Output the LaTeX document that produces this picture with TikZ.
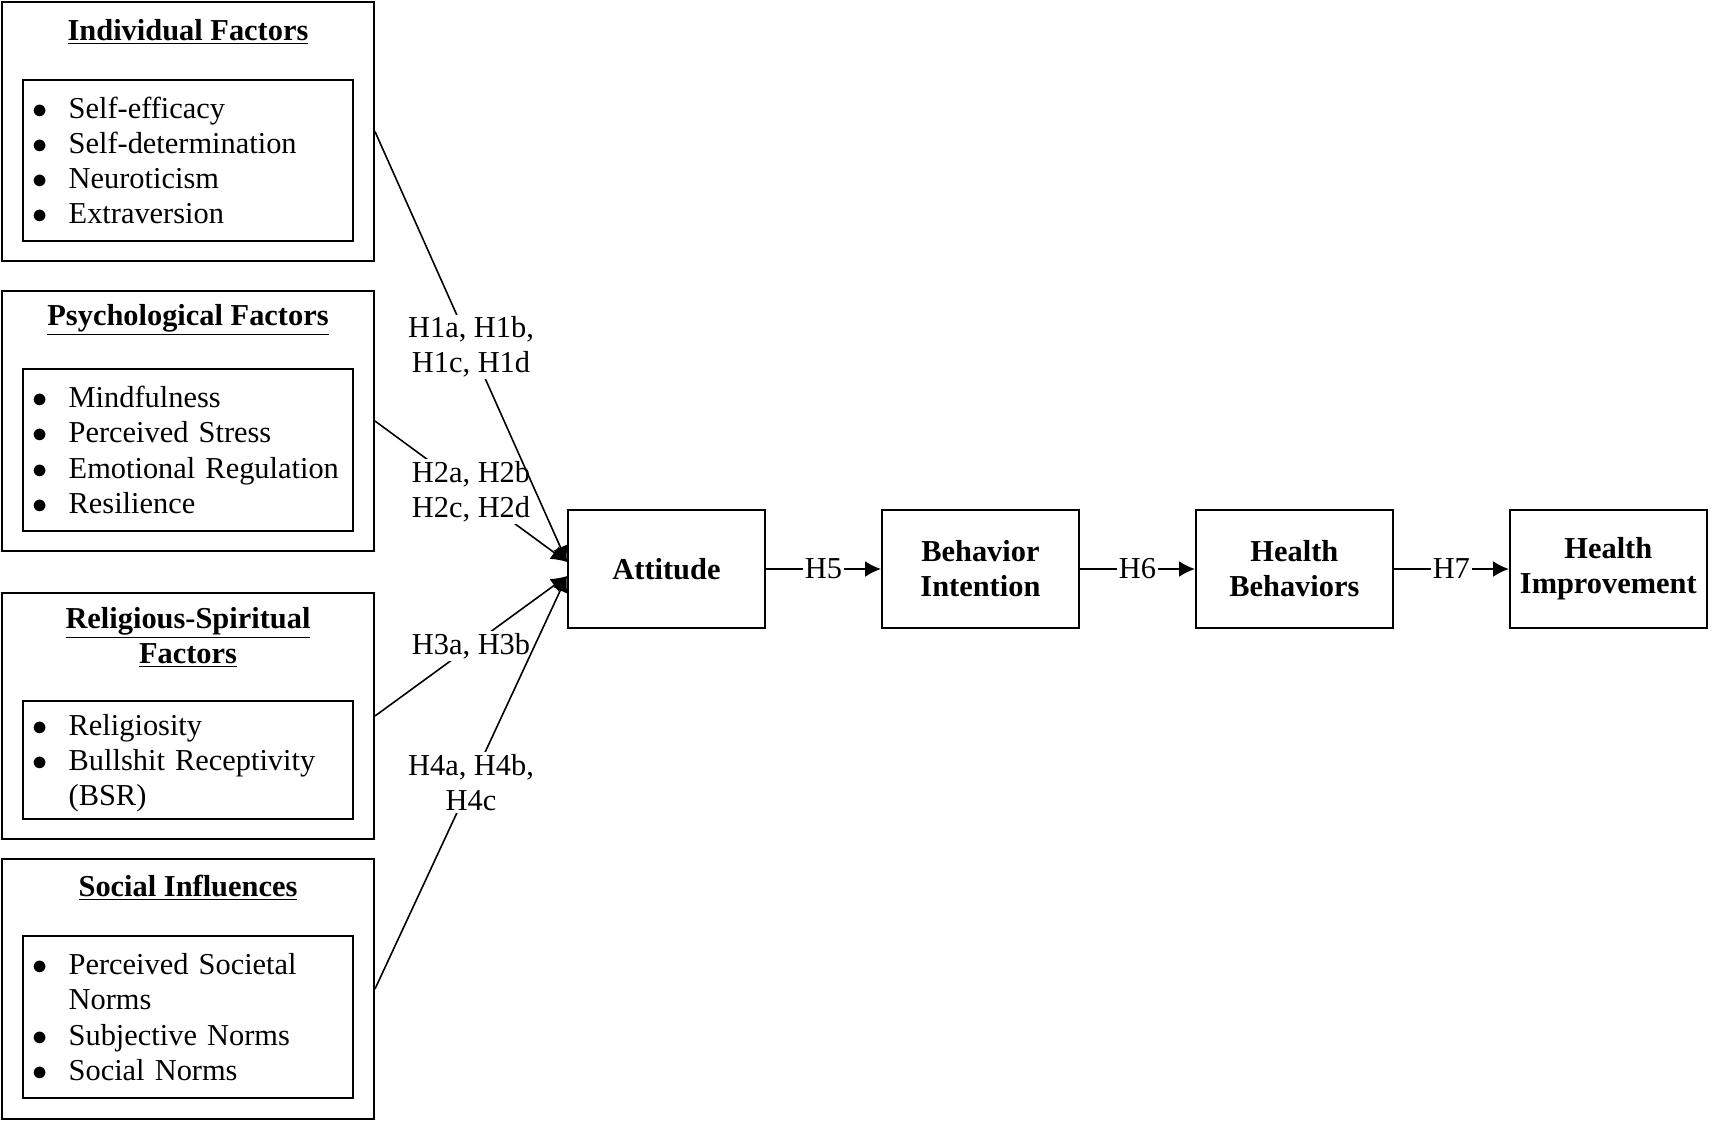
\documentclass[tikz,border=0pt]{standalone}
\usepackage{fontspec}
\setmainfont{Liberation Serif}
\usepackage{tikz}
\usetikzlibrary{arrows.meta}
\usetikzlibrary{positioning}

\newcommand{\listdot}{$\bullet$}
\newcommand{\firstrow}{\rule{0pt}{18pt}}

\begin{document}
\begin{tikzpicture}[
    font=\fontsize{17.3}{20}\selectfont,
    outerbox/.style={draw, line width=1.1pt, minimum width=7.44cm, inner sep=0pt},
    listbox/.style={draw, line width=1.1pt, text width=6.22cm, inner xsep=0.19cm, inner ysep=0pt, align=left},
    mainbox/.style={draw, line width=1.1pt, minimum width=3.94cm, minimum height=2.36cm, align=center,
      font=\fontsize{17.3}{20}\selectfont\bfseries},
    hyplabel/.style={fill=white, inner sep=1pt, align=center},
    link/.style={line width=0.9pt, -{Latex[length=9pt,width=9pt]}}
  ]
  \fill[white] (0,0) rectangle (34.26,-22.42);
  \useasboundingbox (0,0) rectangle (34.26,-22.42);

  % Fattori a sinistra
  \node[outerbox, minimum height=5.18cm] (ind) at (3.76,-2.63) {};
  \node (indt) at (3.76,-0.64) {\textbf{\underline{Individual Factors}}};
  \node[listbox, minimum height=3.22cm] (indl) at (3.76,-3.21) {%
    \begin{tabular}{@{}c@{\hspace{0.42cm}}l@{}}
      \listdot & \firstrow Self-efficacy \\
      \listdot & Self-determination \\
      \listdot & Neuroticism \\
      \listdot & Extraversion
    \end{tabular}};

  \node[outerbox, minimum height=5.20cm] (psy) at (3.76,-8.42) {};
  \node (psyt) at (3.76,-6.40) {\textbf{\underline{Psychological Factors}}};
  \node[listbox, minimum height=3.24cm] (psyl) at (3.76,-9.00) {%
    \begin{tabular}{@{}c@{\hspace{0.42cm}}l@{}}
      \listdot & \firstrow Mindfulness \\
      \listdot & Perceived Stress \\
      \listdot & Emotional Regulation \\
      \listdot & Resilience
    \end{tabular}};

  \node[outerbox, minimum height=4.92cm] (rel) at (3.76,-14.32) {};
  \node[align=center] (relt) at (3.76,-12.75)
    {\textbf{\underline{Religious-Spiritual}}\\\textbf{\underline{Factors}}};
  \node[listbox, minimum height=2.36cm] (rell) at (3.76,-15.20) {%
    \begin{tabular}{@{}c@{\hspace{0.42cm}}l@{}}
      \listdot & \firstrow Religiosity \\
      \listdot & Bullshit Receptivity \\
               & (BSR)
    \end{tabular}};

  \node[outerbox, minimum height=5.20cm] (soc) at (3.76,-19.78) {};
  \node (soct) at (3.76,-17.76) {\textbf{\underline{Social Influences}}};
  \node[listbox, minimum height=3.24cm] (socl) at (3.76,-20.34) {%
    \begin{tabular}{@{}c@{\hspace{0.42cm}}l@{}}
      \listdot & \firstrow Perceived Societal \\
               & Norms \\
      \listdot & Subjective Norms \\
      \listdot & Social Norms
    \end{tabular}};

  % Catena principale
  \node[mainbox] (att) at (13.33,-11.38) {Attitude};
  \node[mainbox, right=2.30cm of att] (bi) {Behavior\\Intention};
  \node[mainbox, right=2.30cm of bi] (hb) {Health\\Behaviors};
  \node[mainbox, right=2.30cm of hb] (hi) {Health\\Improvement};

  \draw[link] (att) -- node[hyplabel] {H5} (bi);
  \draw[link] (bi) -- node[hyplabel] {H6} (hb);
  \draw[link] (hb) -- node[hyplabel] {H7} (hi);

  % Ipotesi verso Attitude
  \draw[link] (psy.east) -- node[hyplabel] {H2a, H2b\\H2c, H2d} ([yshift=0.14cm]att.west);
  \draw[link] (rel.east) -- node[hyplabel] {H3a, H3b} ([yshift=-0.14cm]att.west);
  \draw[link] (ind.east) -- node[hyplabel] {H1a, H1b,\\H1c, H1d} ([yshift=0.14cm]att.west);
  \draw[link] (soc.east) -- node[hyplabel] {H4a, H4b,\\H4c} ([yshift=-0.14cm]att.west);
\end{tikzpicture}
\end{document}
